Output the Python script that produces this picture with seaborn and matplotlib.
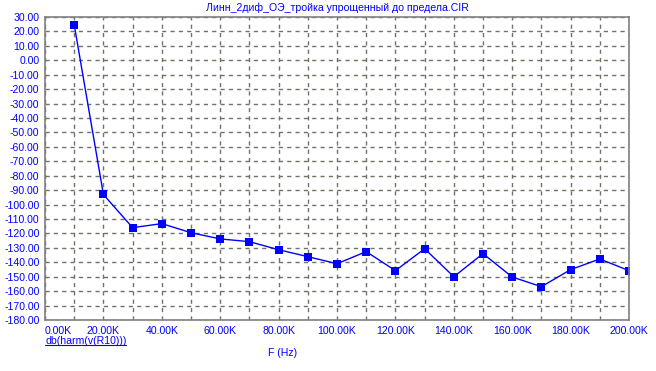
import matplotlib
matplotlib.use("Agg")
import matplotlib.pyplot as plt
import seaborn as sns
import pandas as pd
from matplotlib.ticker import MultipleLocator, FuncFormatter

freq_k = [10, 20, 30, 40, 50, 60, 70, 80, 90, 100, 110, 120, 130, 140, 150, 160, 170, 180, 190, 200]
db_vals = [24.7, -93.0, -116.0, -113.2, -119.5, -123.8, -125.7, -131.3, -136.1, -141.0,
           -132.6, -145.8, -130.6, -150.0, -134.0, -150.2, -156.9, -145.1, -137.7, -145.8]
title = "Линн_2диф_ОЭ_тройка упрощенный до предела.CIR"
y_label = "db(harm(v(R10)))"
x_label = "F (Hz)"

df = pd.DataFrame({"F": freq_k, "dB": db_vals})

sns.set_style("white")
plt.rcParams['font.family'] = ['Liberation Sans', 'DejaVu Sans']

fig = plt.figure(figsize=(6.56, 3.71), dpi=100)
ax = fig.add_axes([45/656, 1 - 320/371, (629-45)/656, (320-17)/371])

blue = "#0000FF"
fs = 7.6
sns.lineplot(data=df, x="F", y="dB", ax=ax, color=blue, linewidth=1.0,
             marker="s", markersize=6, markeredgewidth=0, markerfacecolor=blue)

x_min, x_max = 0, 200
ax.set_xlim(x_min, x_max)
ax.set_ylim(-180, 30)
ax.xaxis.set_major_locator(MultipleLocator(20))
ax.xaxis.set_minor_locator(MultipleLocator(10))
ax.yaxis.set_major_locator(MultipleLocator(10))

def xfmt(v, p):
    return "" if abs(v - x_min) < 1e-9 else f"{v:.2f}K"

ax.xaxis.set_major_formatter(FuncFormatter(xfmt))
ax.yaxis.set_major_formatter(FuncFormatter(lambda v, p: f"{v:.2f}"))

gridc = "#6f7468"
ax.grid(True, which="both", axis="x", color=gridc, linestyle=(0, (3, 3)), linewidth=1)
ax.grid(True, which="major", axis="y", color=gridc, linestyle=(0, (3, 3)), linewidth=1)
ax.set_axisbelow(True)

for s in ax.spines.values():
    s.set_color("#808080")
    s.set_linewidth(1.2)

ax.tick_params(axis="both", which="both", length=0, labelsize=fs, labelcolor=blue, pad=4)
ax.set_xlabel("")
ax.set_ylabel("")

# first x tick label is left-aligned to the axis start (as in the reference)
ax.annotate(f"{x_min:.2f}K", xy=(x_min, 0), xycoords=ax.get_xaxis_transform(),
            xytext=(0, -4), textcoords="offset points", ha="left", va="top",
            fontsize=fs, color=blue)

ax.set_title(title, fontsize=fs, color=blue, pad=4)
t = fig.text(45/656, 1 - 341/371, y_label, fontsize=fs, color=blue, ha="left", va="center")
fig.canvas.draw()
bb = t.get_window_extent()
fig.add_artist(plt.Line2D([bb.x0/656, bb.x1/656], [(bb.y0 + 1)/371, (bb.y0 + 1)/371],
                          color=blue, linewidth=0.8, transform=fig.transFigure))
fig.text(283/656, 1 - 353/371, x_label, fontsize=fs, color=blue, ha="center", va="center")

fig.savefig("out.png", dpi=100, facecolor="white")
